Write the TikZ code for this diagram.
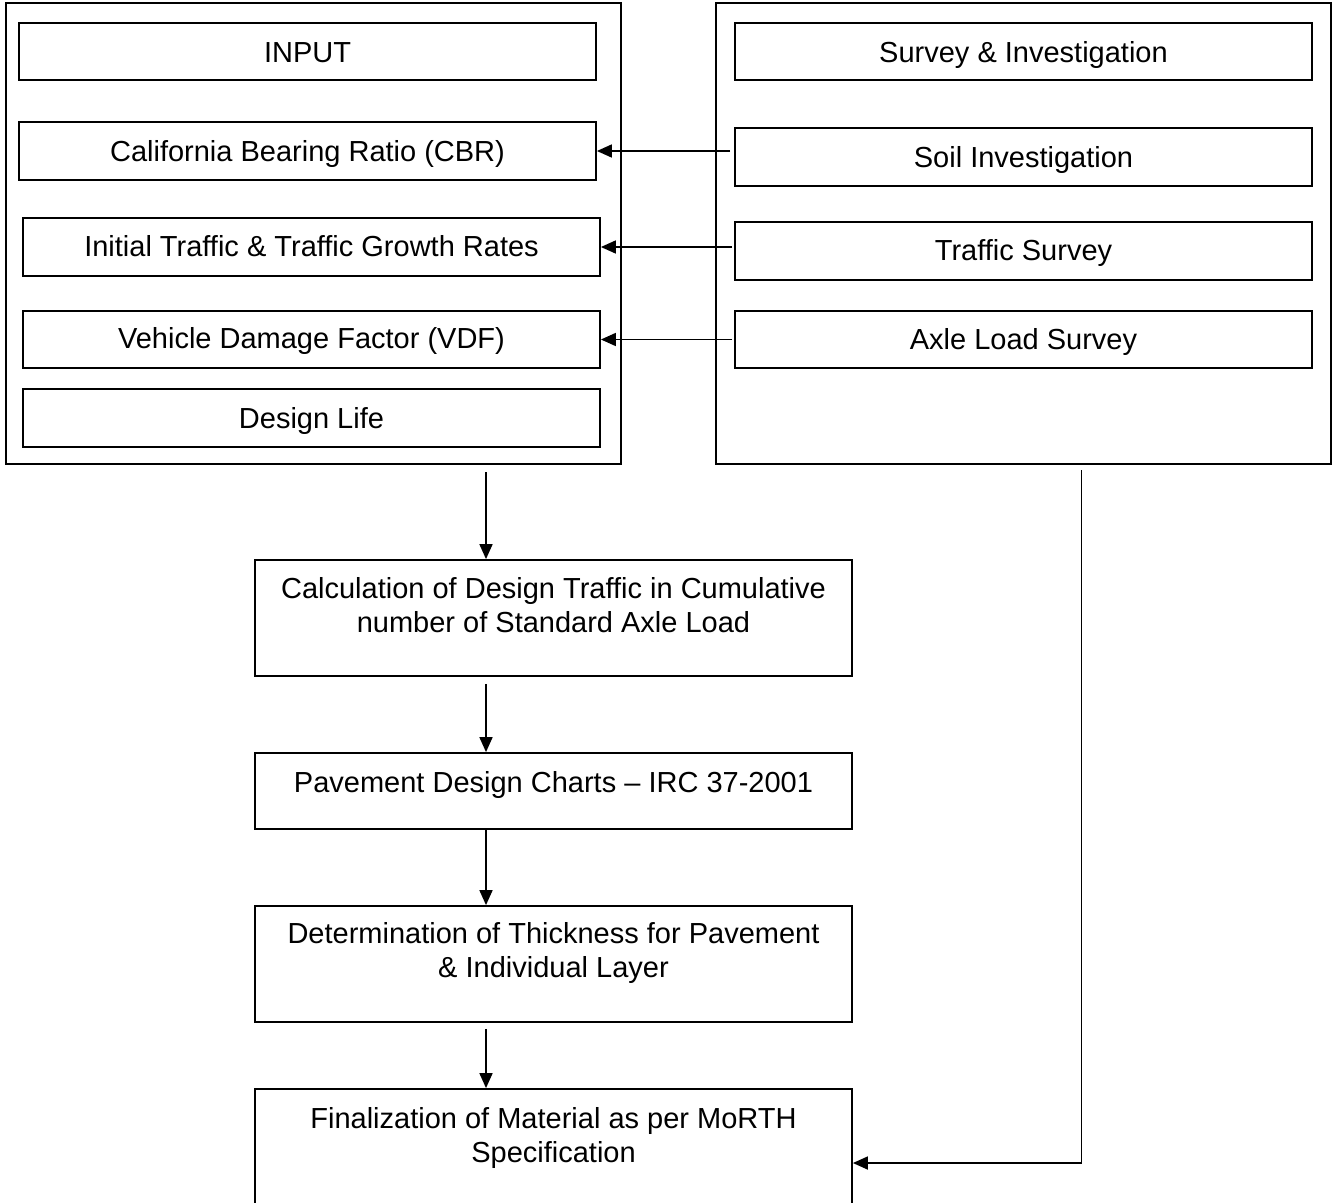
\documentclass[tikz,border=0pt]{standalone}
\usepackage{fontspec}
\setmainfont{Liberation Sans}
\usetikzlibrary{arrows.meta}
\begin{document}
\begin{tikzpicture}[x=1pt,y=-1pt,
  box/.style={draw=black, line width=1.8pt, rectangle, inner sep=0pt, minimum width=577pt},
  bigbox/.style={draw=black, line width=1.8pt, rectangle, inner sep=0pt, minimum width=615pt, minimum height=461pt},
  flowbox/.style={draw=black, line width=1.8pt, rectangle, inner sep=0pt, minimum width=597pt},
  txt/.style={inner sep=0pt, anchor=base, align=center, font=\fontsize{29}{34}\selectfont},
  arr/.style={draw=black, line width=1.7pt, -{Triangle[length=15pt,width=13pt]}}]
\useasboundingbox (0,0) rectangle (1335,1202);
\fill[white] (0,0) rectangle (1335,1202);
\clip (0,0) rectangle (1335,1202);
% left group
\node[bigbox] (lout) at (313.5,233.5) {};
\node[box, minimum height=57pt] (input) at (307.5,51.5) {};
\node[box, minimum height=58pt] (cbr) at (307.5,151) {};
\node[box, minimum height=58pt] (init) at (311.5,247) {};
\node[box, minimum height=57pt] (vdf) at (311.5,339.5) {};
\node[box, minimum height=58pt] (life) at (311.5,418) {};
\node[txt] (inputt) at (307.5,62) {INPUT};
\node[txt] (cbrt) at (307.5,161) {California Bearing Ratio (CBR)};
\node[txt] (initt) at (311.5,256) {Initial Traffic \& Traffic Growth Rates};
\node[txt] (vdft) at (311.5,348) {Vehicle Damage Factor (VDF)};
\node[txt] (lifet) at (311.5,428) {Design Life};
% right group
\node[bigbox] (rout) at (1023.5,233.5) {};
\node[box, minimum height=57pt] (survey) at (1023.5,51.5) {};
\node[box, minimum height=58pt] (soil) at (1023.5,157) {};
\node[box, minimum height=58pt] (ts) at (1023.5,251) {};
\node[box, minimum height=57pt] (axle) at (1023.5,339.5) {};
\node[txt] (surveyt) at (1023.5,62) {Survey \& Investigation};
\node[txt] (soilt) at (1023.5,167) {Soil Investigation};
\node[txt] (tst) at (1023.5,260) {Traffic Survey};
\node[txt] (axlet) at (1023.5,349) {Axle Load Survey};
% flow
\node[flowbox, minimum height=116pt] (calc) at (553.5,618) {};
\node[flowbox, minimum height=76pt] (pav) at (553.5,791) {};
\node[flowbox, minimum height=116pt] (det) at (553.5,964) {};
\node[flowbox, minimum height=126pt] (fin) at (553.5,1152) {};
\node[txt] (calct) at (553.5,632) {Calculation of Design Traffic in Cumulative\\number of Standard Axle Load};
\node[txt] (pavt) at (553.5,792) {Pavement Design Charts -- IRC 37-2001};
\node[txt] (dett) at (553.5,977) {Determination of Thickness for Pavement\\\& Individual Layer};
\node[txt] (fint) at (553.5,1162) {Finalization of Material as per MoRTH\\Specification};
% connectors
\draw[arr] ([xshift=-4pt]soil.west |- cbr.east) -- (cbr.east);
\draw[arr] ([xshift=-2pt]ts.west |- init.east) -- (init.east);
\draw[arr] ([xshift=-2pt]axle.west |- vdf.east) -- (vdf.east);
\coordinate (s1) at (486,472);
\draw[arr] (s1) -- (s1 |- calc.north);
\draw[arr] ([yshift=-7pt]calc.south -| s1) -- (s1 |- pav.north);
\draw[arr] (pav.south -| s1) -- (s1 |- det.north);
\draw[arr] ([yshift=-6pt]det.south -| s1) -- (s1 |- fin.north);
\coordinate (r1) at (1081.5,470);
\draw[arr] (r1) |- ([yshift=-11pt]fin.east);
\end{tikzpicture}
\end{document}
